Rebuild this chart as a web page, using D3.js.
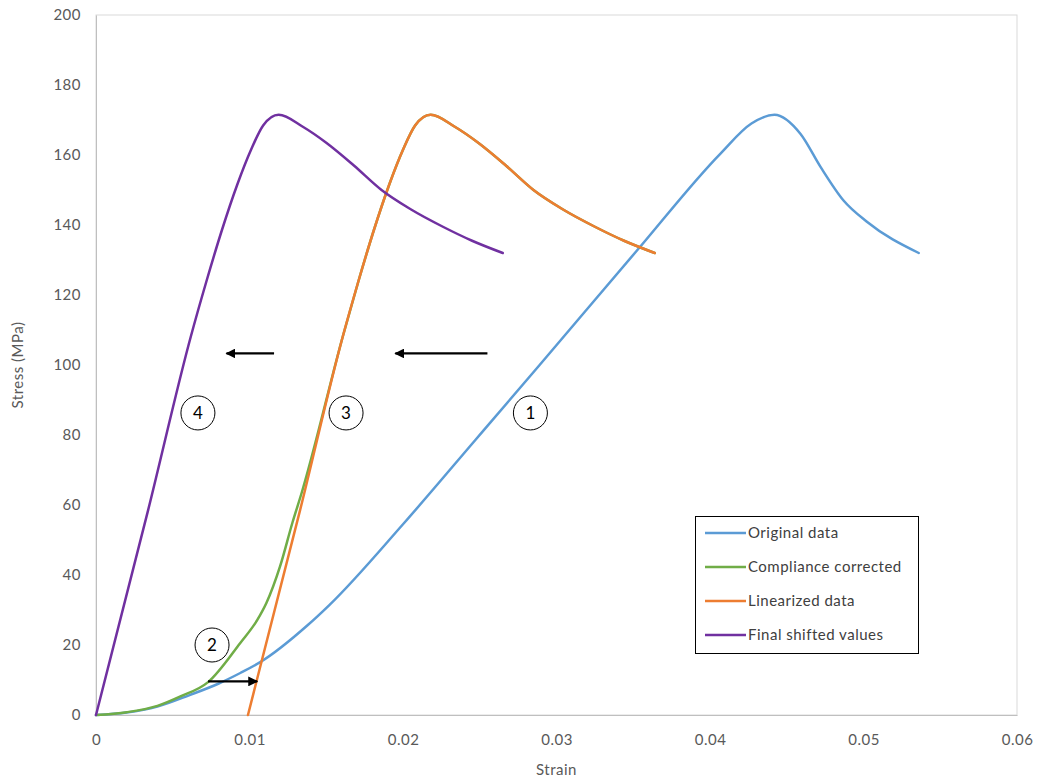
<!DOCTYPE html>
<html>
<head>
<meta charset="utf-8">
<script src="https://cdnjs.cloudflare.com/ajax/libs/d3/7.8.5/d3.min.js"></script>
<style>
  body { margin: 0; background: #fff; }
  text { font-family: Lato, "Open Sans", sans-serif; letter-spacing: 0.5px; }
</style>
</head>
<body>
<svg id="chart" width="1038" height="781"></svg>
<script>
// ---- Data (strain, stress MPa) ----
const originalStrain = [0, 0.002, 0.004, 0.0061, 0.008, 0.0094, 0.0107, 0.0138, 0.0152, 0.0200, 0.0247, 0.0289, 0.0352, 0.0407, 0.0427, 0.0442, 0.0459, 0.0472, 0.0487, 0.0502, 0.0536];
const originalStress = [0, 0.7, 2.4, 5.7, 9.0, 12, 15.1, 25.7, 31.4, 54.5, 78.5, 100, 132.5, 160.5, 169, 171.5, 166, 156.6, 147, 141, 132];

const complianceStrain = [0, 0.002, 0.004, 0.0055, 0.0073, 0.0094, 0.0105, 0.0111, 0.0120, 0.0128, 0.0134, 0.0161, 0.0171, 0.0181, 0.0191, 0.0200, 0.0208, 0.0218, 0.0234, 0.0249, 0.0267, 0.0285, 0.0304, 0.0325, 0.0344, 0.0364];
const complianceStress = [0, 0.8, 2.6, 5.3, 9.4, 20.6, 27.1, 32, 42.6, 55, 63.5, 108.5, 124, 138.5, 151.5, 161.5, 168.5, 171.5, 168, 163.5, 157, 150, 144.5, 139.5, 135.5, 132];

const linearStrain = [0.0099, 0.0133, 0.0161, 0.0171, 0.0181, 0.0191, 0.0200, 0.0208, 0.0218, 0.0234, 0.0249, 0.0267, 0.0285, 0.0304, 0.0325, 0.0344, 0.0364];
const linearStress = [0, 58.6, 108.5, 124, 138.5, 151.5, 161.5, 168.5, 171.5, 168, 163.5, 157, 150, 144.5, 139.5, 135.5, 132];

const finalStrain = [0, 0.0034, 0.0062, 0.0072, 0.0082, 0.0092, 0.0101, 0.0109, 0.0119, 0.0135, 0.0150, 0.0168, 0.0186, 0.0205, 0.0226, 0.0245, 0.0265];
const finalStress = [0, 58.6, 108.5, 124, 138.5, 151.5, 161.5, 168.5, 171.5, 168, 163.5, 157, 150, 144.5, 139.5, 135.5, 132];

const seriesNames = ["Original data", "Compliance corrected", "Linearized data", "Final shifted values"];
const seriesColors = ["#5B9BD5", "#70AD47", "#ED7D31", "#7030A0"];

const xTicks = [0, 0.01, 0.02, 0.03, 0.04, 0.05, 0.06];
const xTickLabels = ["0", "0.01", "0.02", "0.03", "0.04", "0.05", "0.06"];
const yTicks = [0, 20, 40, 60, 80, 100, 120, 140, 160, 180, 200];

// annotations (data coordinates)
const markerLabels = ["1", "2", "3", "4"];
const markerX = [0.0283, 0.00756, 0.01629, 0.00664];
const markerY = [86.3, 20, 86.3, 86.3];
const arrowX1 = [0.0255, 0.0116, 0.0073];
const arrowX2 = [0.0195, 0.0085, 0.0105];
const arrowY = [103.3, 103.3, 9.6];

// ---- Layout ----
const svg = d3.select("#chart");
const m = { left: 96, right: 1017, top: 15, bottom: 715 };
const x = d3.scaleLinear().domain([0, 0.06]).range([m.left, m.right]);
const y = d3.scaleLinear().domain([0, 200]).range([m.bottom, m.top]);

svg.append("defs").append("marker")
  .attr("id", "ah").attr("viewBox", "0 0 10 10").attr("refX", 9).attr("refY", 5)
  .attr("markerWidth", 4.5).attr("markerHeight", 4.5).attr("orient", "auto")
  .append("path").attr("d", "M0,0 L10,5 L0,10 z").attr("fill", "#000");

// plot border
svg.append("rect").attr("x", m.left).attr("y", m.top)
  .attr("width", m.right - m.left).attr("height", m.bottom - m.top)
  .attr("fill", "none").attr("stroke", "#d9d9d9").attr("stroke-width", 1);

// axes
const xAxis = svg.append("g").attr("transform", `translate(0,${m.bottom})`)
  .call(d3.axisBottom(x).tickValues(xTicks).tickFormat((d, i) => xTickLabels[i]).tickSize(0).tickPadding(19));
xAxis.select(".domain").attr("stroke", "#bfbfbf");
xAxis.selectAll("text").attr("fill", "#595959").style("font-size", "15px");

const yAxis = svg.append("g").attr("transform", `translate(${m.left},0)`)
  .call(d3.axisLeft(y).tickValues(yTicks).tickSize(0).tickPadding(15));
yAxis.select(".domain").attr("stroke", "#bfbfbf");
yAxis.selectAll("text").attr("fill", "#595959").style("font-size", "15px");

// axis titles
svg.append("text").attr("x", (m.left + m.right) / 2).attr("y", 775)
  .attr("text-anchor", "middle").attr("fill", "#595959").style("font-size", "15px").text("Strain");
svg.append("text").attr("transform", `translate(23,${(m.top + m.bottom) / 2}) rotate(-90)`)
  .attr("text-anchor", "middle").attr("fill", "#595959").style("font-size", "15px").text("Stress (MPa)");

// lines
const series = [
  [originalStrain, originalStress],
  [complianceStrain, complianceStress],
  [linearStrain, linearStress],
  [finalStrain, finalStress]
];
const line = d3.line().x(d => x(d[0])).y(d => y(d[1])).curve(d3.curveMonotoneX);
series.forEach((s, i) => {
  const pts = s[0].map((v, j) => [v, s[1][j]]);
  svg.append("path").datum(pts).attr("d", line)
    .attr("fill", "none").attr("stroke", seriesColors[i]).attr("stroke-width", 2.5)
    .attr("stroke-linejoin", "round").attr("stroke-linecap", "round");
});

// arrows
arrowX1.forEach((v, i) => {
  svg.append("line").attr("x1", x(v)).attr("y1", y(arrowY[i]))
    .attr("x2", x(arrowX2[i])).attr("y2", y(arrowY[i]))
    .attr("stroke", "#000").attr("stroke-width", 2.2).attr("marker-end", "url(#ah)");
});

// circled numbers
markerLabels.forEach((t, i) => {
  const g = svg.append("g").attr("transform", `translate(${x(markerX[i])},${y(markerY[i])})`);
  g.append("circle").attr("r", 17).attr("fill", "#fff").attr("stroke", "#000").attr("stroke-width", 1);
  g.append("text").attr("text-anchor", "middle").attr("dy", "0.36em")
    .attr("fill", "#000").style("font-size", "17px").style("letter-spacing", "0").text(t);
});

// legend
const lg = svg.append("g");
lg.append("rect").attr("x", 695.5).attr("y", 516.5).attr("width", 223).attr("height", 137)
  .attr("fill", "#fff").attr("stroke", "#000").attr("stroke-width", 1);
const rowY = [533, 567, 601, 635];
seriesNames.forEach((n, i) => {
  lg.append("line").attr("x1", 705).attr("x2", 746).attr("y1", rowY[i]).attr("y2", rowY[i])
    .attr("stroke", seriesColors[i]).attr("stroke-width", 2.5);
  lg.append("text").attr("x", 748).attr("y", rowY[i]).attr("dy", "0.35em")
    .attr("fill", "#404040").style("font-size", "15px").text(n);
});
</script>
</body>
</html>
